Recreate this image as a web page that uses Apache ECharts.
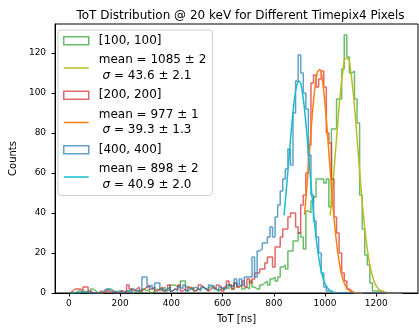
<!DOCTYPE html>
<html>
<head>
<meta charset="utf-8">
<script src="https://cdn.jsdelivr.net/npm/echarts@6/dist/echarts.min.js"></script>
<style>
  html, body { margin: 0; padding: 0; background: #fff; }
  #chart { width: 419px; height: 329px; }
</style>
</head>
<body>
<div id="chart"></div>
<script>
// histogram bins: 10 ns wide, first edge at 5 ns
const binStart = 5;
const binWidth = 10;

const xTicks = [0, 200, 400, 600, 800, 1000, 1200];
const yTicks = [0, 20, 40, 60, 80, 100, 120];

const pixelNames = ['[100, 100]', '[200, 200]', '[400, 400]'];
const fitMeans = ['1085 ± 2', '977 ± 1', '898 ± 2'];
const fitSigmas = ['43.6 ± 2.1', '39.3 ± 1.3', '40.9 ± 2.0'];

// counts per bin
const counts100 = [
  0, 0, 1, 1, 0, 1, 0, 0, 2, 1,
  0, 0, 0, 1, 2, 2, 1, 0, 1, 1,
  0, 1, 1, 2, 0, 1, 1, 0, 2, 1,
  2, 0, 1, 2, 1, 2, 3, 1, 2, 4,
  4, 3, 4, 6, 6, 3, 2, 3, 1, 2,
  2, 3, 2, 1, 3, 4, 2, 1, 2, 2,
  3, 2, 4, 2, 5, 3, 4, 2, 3, 2,
  6, 3, 2, 2, 4, 5, 6, 4, 7, 8,
  6, 8, 13, 14, 12, 21, 21, 26, 26, 30,
  28, 22, 41, 40, 46, 48, 57, 57, 57, 55,
  57, 43, 82, 82, 97, 97, 112, 129, 118, 110,
  111, 97, 85, 49, 32, 19, 14, 5, 1, 1,
  1, 1, 0, 0, 0, 0, 0, 0, 0, 0
];
const counts200 = [
  1, 2, 2, 2, 1, 3, 3, 1, 0, 0,
  0, 1, 0, 1, 1, 0, 1, 0, 0, 1,
  1, 0, 4, 2, 1, 2, 3, 1, 2, 3,
  4, 2, 3, 1, 2, 3, 1, 2, 4, 1,
  2, 2, 4, 1, 2, 1, 3, 2, 1, 2,
  4, 3, 2, 1, 2, 3, 2, 4, 3, 1,
  3, 6, 4, 2, 5, 3, 4, 6, 3, 7,
  5, 7, 10, 10, 12, 12, 15, 18, 18, 13,
  23, 23, 28, 32, 32, 38, 40, 40, 33, 30,
  44, 49, 60, 74, 105, 109, 103, 107, 111, 103,
  80, 75, 57, 38, 30, 20, 10, 6, 2, 1,
  0, 0, 0, 0, 0, 0, 0, 0, 0, 0,
  0, 0, 0, 0, 0, 0, 0, 0, 0, 0
];
const counts400 = [
  0, 0, 0, 0, 1, 0, 1, 0, 0, 0,
  0, 0, 1, 2, 2, 1, 0, 1, 0, 1,
  0, 1, 1, 0, 2, 1, 1, 2, 8, 8,
  3, 4, 2, 5, 5, 2, 1, 2, 3, 1,
  2, 1, 3, 2, 4, 1, 2, 2, 3, 2,
  1, 3, 2, 2, 4, 3, 2, 1, 3, 2,
  2, 4, 3, 4, 7, 4, 7, 4, 8, 8,
  8, 18, 8, 21, 22, 25, 25, 28, 33, 28,
  38, 44, 51, 57, 62, 72, 64, 90, 106, 119,
  110, 100, 92, 69, 49, 36, 28, 20, 10, 3,
  1, 1, 0, 0, 0, 0, 0, 0, 0, 0,
  0, 0, 0, 0, 0, 0, 0, 0, 0, 0,
  0, 0, 0, 0, 0, 0, 0, 0, 0, 0
];

// fitted curves, points [ToT, counts]
const fit100 = [[1020, 38.8], [1030, 53.3], [1040, 69.3], [1050, 85.5], [1060, 100.1], [1070, 111.2],
  [1080, 117.2], [1090, 117.2], [1100, 111.2], [1110, 100.1], [1120, 85.5], [1130, 69.3], [1140, 53.3],
  [1150, 38.8], [1160, 26.9], [1170, 17.6], [1180, 11.0], [1190, 6.5], [1200, 3.6], [1210, 1.9],
  [1220, 1.0], [1230, 0.5], [1240, 0.2], [1260, 0.05], [1295, 0]];
const fit200 = [[920, 39.1], [930, 54.8], [940, 71.9], [950, 88.5], [960, 102.0], [970, 110.2],
  [980, 111.7], [990, 106.0], [1000, 94.4], [1010, 78.7], [1020, 61.6], [1030, 45.1], [1040, 31.0],
  [1050, 20.0], [1060, 12.0], [1070, 6.8], [1080, 3.6], [1090, 1.8], [1100, 0.8], [1110, 0.4],
  [1120, 0.1], [1150, 0]];
const fit400 = [[840, 38.8], [850, 53.2], [860, 68.8], [870, 83.9], [880, 96.2], [890, 104.0],
  [900, 105.9], [910, 101.5], [920, 91.7], [930, 78.0], [940, 62.6], [950, 47.2], [960, 33.6],
  [970, 22.5], [980, 14.2], [990, 8.4], [1000, 4.7], [1010, 2.5], [1020, 1.2], [1035, 0.4]];

const histColors = ['rgba(44,160,44,0.7)', 'rgba(214,39,40,0.7)', 'rgba(31,119,180,0.7)'];
const fitColors = ['#bcbd22', '#ff7f0e', '#17becf'];

const font = 'DejaVu Sans';

function stepPoints(counts) {
  var pts = [[binStart, 0]];
  for (var i = 0; i < counts.length; i++) {
    pts.push([binStart + i * binWidth, counts[i]]);
  }
  pts.push([binStart + counts.length * binWidth, 0]);
  return pts;
}

var allCounts = [counts100, counts200, counts400];
var allFits = [fit100, fit200, fit400];

var series = [];
var legendData = [];
var legendText = {};
for (var k = 0; k < 3; k++) {
  var hName = pixelNames[k];
  var fName = 'fit ' + pixelNames[k];
  series.push({
    name: hName, type: 'line', step: 'end', symbol: 'none',
    data: stepPoints(allCounts[k]),
    lineStyle: { color: histColors[k], width: 1.5 },
    itemStyle: { color: histColors[k] }
  });
  series.push({
    name: fName, type: 'line', smooth: 0.4, symbol: 'none',
    data: allFits[k],
    lineStyle: { color: fitColors[k], width: 1.5 },
    itemStyle: { color: fitColors[k] }
  });
  legendData.push({
    name: hName, icon: 'rect',
    itemStyle: { color: 'rgba(255,255,255,0)', borderColor: histColors[k], borderWidth: 1.5 }
  });
  legendData.push({
    name: fName, icon: 'path://M0,0H25V1.5H0Z',
    itemStyle: { color: fitColors[k], borderWidth: 0 }
  });
  legendText[hName] = '{t|' + hName + '}';
  legendText[fName] = '{t|mean = ' + fitMeans[k] + '}\n {i|σ}{t| = ' + fitSigmas[k] + '}';
}

var chart = echarts.init(document.getElementById('chart'));
var option = {
  animation: false,
  title: {
    text: 'ToT Distribution @ 20 keV for Different Timepix4 Pixels',
    left: 235.5, top: 5, textAlign: 'center',
    textStyle: { fontFamily: font, fontSize: 12, fontWeight: 'normal', color: '#000' }
  },
  grid: { left: 53, right: 1, top: 24, bottom: 32, show: true, borderColor: '#000', borderWidth: 1 },
  xAxis: {
    type: 'value', min: -54, max: 1363,
    name: 'ToT [ns]', nameLocation: 'middle', nameGap: 21,
    nameTextStyle: { fontFamily: font, fontSize: 10, color: '#000' },
    axisLine: { show: true, onZero: false, lineStyle: { color: '#000', width: 1 } },
    axisTick: { show: true, length: 3.5, customValues: xTicks, lineStyle: { color: '#000' } },
    axisLabel: {
      customValues: xTicks, margin: 6, fontFamily: font, fontSize: 9, color: '#000',
      formatter: function (v) { return String(v); }
    },
    splitLine: { show: false }
  },
  yAxis: {
    type: 'value', min: 0, max: 134.5,
    name: 'Counts', nameLocation: 'middle', nameGap: 30,
    nameTextStyle: { fontFamily: font, fontSize: 10, color: '#000' },
    axisLine: { show: true, onZero: false, lineStyle: { color: '#000', width: 1 } },
    axisTick: { show: true, length: 3.5, customValues: yTicks, lineStyle: { color: '#000' } },
    axisLabel: { customValues: yTicks, margin: 9, fontFamily: font, fontSize: 9, color: '#000' },
    splitLine: { show: false }
  },
  legend: {
    orient: 'vertical', left: 58, top: 30,
    padding: [3, 6, 3, 5],
    itemGap: 4, itemWidth: 25, itemHeight: 8,
    backgroundColor: 'rgba(255,255,255,0.8)',
    borderColor: '#cccccc', borderWidth: 1, borderRadius: 3,
    selectedMode: false,
    data: legendData,
    formatter: function (name) { return legendText[name]; },
    textStyle: {
      fontFamily: font, fontSize: 12, color: '#000', lineHeight: 15.5,
      padding: [0, 0, 0, 5],
      rich: {
        t: { fontFamily: font, fontSize: 12, color: '#000', lineHeight: 15.5 },
        i: { fontFamily: font, fontSize: 12, color: '#000', lineHeight: 15.5, fontStyle: 'italic' }
      }
    }
  },
  series: series
};
chart.setOption(option);
window.addEventListener('resize', chart.resize);
</script>
</body>
</html>
